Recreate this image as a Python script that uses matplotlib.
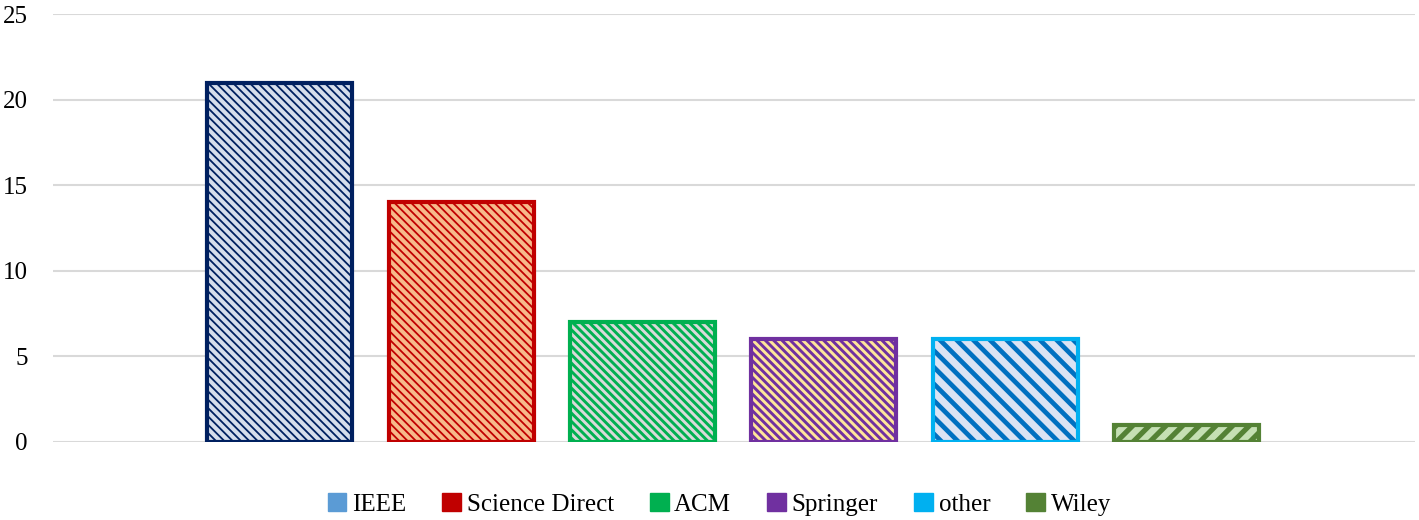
import matplotlib.pyplot as plt
from matplotlib.patches import Patch

# данные
sources = ["IEEE", "Science Direct", "ACM", "Springer", "other", "Wiley"]
counts = [21, 14, 7, 6, 6, 1]
yticks = [0, 5, 10, 15, 20, 25]

# стиль столбцов: заливка, цвет штриховки, рамка, штриховка, толщина штриховки
face_colors = ["#D6DEEC", "#F7B98A", "#D9D9D9", "#FFE699", "#DAE3F3", "#548235"]
hatch_colors = ["#002060", "#C00000", "#00B050", "#7030A0", "#0070C0", "#C5E0B4"]
edge_colors = ["#002060", "#C00000", "#00B050", "#7030A0", "#00B0F0", "#548235"]
hatches = ["\\\\\\\\", "\\\\\\\\", "\\\\\\\\", "\\\\\\\\", "\\\\", "//"]
hatch_widths = [1.3, 1.3, 2.1, 2.1, 3.4, 4.7]
legend_colors = ["#5B9BD5", "#C00000", "#00B050", "#7030A0", "#00B0F0", "#548235"]

plt.rcParams["font.family"] = ["Liberation Serif", "DejaVu Serif"]

fig = plt.figure(figsize=(14.19, 5.2), dpi=100)
ax = fig.add_axes([0.0373, 0.15, 0.9597, 0.823])

x = list(range(len(sources)))
for i in x:
    # штриховка
    with plt.rc_context({"hatch.linewidth": hatch_widths[i]}):
        bars = ax.bar(i, counts[i], width=0.8, color=face_colors[i], edgecolor=hatch_colors[i],
                      hatch=hatches[i], linewidth=0, zorder=2)
    for b in bars:
        if hasattr(b, "set_hatch_linewidth"):
            b.set_hatch_linewidth(hatch_widths[i])
    # рамка
    ax.bar(i, counts[i], width=0.8, facecolor="none", edgecolor=edge_colors[i],
           linewidth=3, zorder=3)

ax.set_xlim(-1.252, 6.258)
ax.set_ylim(0, 25)
ax.set_yticks(yticks)
ax.set_xticks([])
ax.tick_params(axis="y", length=0, labelsize=18, pad=18)
ax.yaxis.grid(True, color="#D9D9D9", linewidth=1.5, zorder=0)
ax.set_axisbelow(True)
for s in ax.spines.values():
    s.set_visible(False)

handles = [Patch(facecolor=legend_colors[i], edgecolor=legend_colors[i]) for i in x]
fig.legend(handles, sources, loc="lower center", bbox_to_anchor=(0.507, -0.035), ncol=6,
           frameon=False, fontsize=18, handlelength=0.75, handleheight=0.75,
           handletextpad=0.22, columnspacing=1.45)

fig.savefig("out.png", dpi=100)
